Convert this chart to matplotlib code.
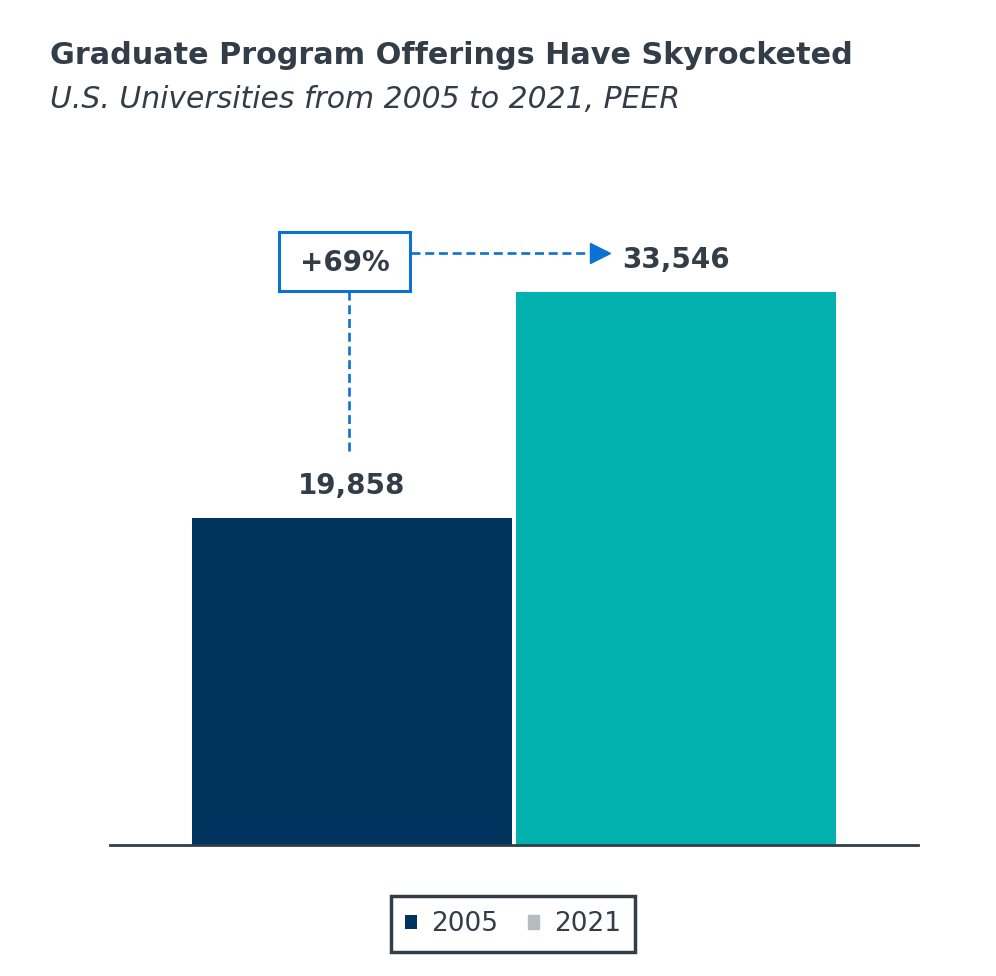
import matplotlib
matplotlib.use("Agg")
import matplotlib.pyplot as plt
from matplotlib.patches import Patch, Rectangle

years = ["2005", "2021"]
values = [19858, 33546]
colors = ["#00335d", "#03b1af"]
pct_label = "+69%"

DARK = "#333d47"
BLUE = "#0a72d2"

plt.rcParams["hatch.color"] = colors[1]
plt.rcParams["hatch.linewidth"] = 1.5

fig = plt.figure(figsize=(9.96, 9.76), dpi=100)
ax = fig.add_axes([110/996, 131/976, 808/996, 645/976])
ymax = values[1] * (645/553)
ax.set_ylim(0, ymax)
ax.set_xlim(-0.747, 1.747)

x = [0, 1]
ax.bar(x, values, width=0.988, color=colors, zorder=2)

for xi, v in zip(x, values):
    ax.text(xi, v + ymax*0.0495, f"{v:,}", ha="center", va="center",
            fontsize=20, fontweight="bold", color=DARK)

for s in ["top", "right", "left"]:
    ax.spines[s].set_visible(False)
ax.spines["bottom"].set_color(DARK)
ax.spines["bottom"].set_linewidth(2)
ax.set_xticks([])
ax.set_yticks([])

# annotation (pixel -> data helpers)
py = lambda p: (845 - p) / 553 * values[1]
px = lambda p: (p - 352) / 324
dash = (0, (3.4, 1.8))
ax.add_patch(Rectangle((px(279), py(291)), px(410) - px(279), py(232) - py(291),
                       fc="white", ec=BLUE, lw=2.2, zorder=3))
ax.text(px(345), py(263), pct_label, ha="center", va="center", fontsize=20,
        fontweight="bold", color=DARK, zorder=4)
ax.plot([px(349), px(349)], [py(451), py(292)], ls=dash, color=BLUE, lw=1.9, zorder=1)
ax.plot([px(411), px(592)], [py(253), py(253)], ls=dash, color=BLUE, lw=1.9, zorder=1)
ax.plot([px(600)], [py(253)], marker=">", markersize=15, color=BLUE, mec=BLUE, zorder=3)

fig.text(50/996, 1 - 55/976, "Graduate Program Offerings Have Skyrocketed",
         fontsize=21.8, fontweight="bold", color=DARK, ha="left", va="center")
fig.text(50/996, 1 - 100/976, "U.S. Universities from 2005 to 2021, PEER",
         fontsize=21.5, style="italic", color=DARK, ha="left", va="center")

handles = [Patch(facecolor=colors[0], label=years[0]),
           Patch(facecolor="#b5bcbc", edgecolor="#b5bcbc", hatch="..", label=years[1])]
leg = fig.legend(handles=handles, loc="center", bbox_to_anchor=(513/996, 1 - 924/976),
                 ncol=2, frameon=True, fancybox=False, fontsize=19, framealpha=1,
                 handlelength=0.45, handleheight=0.45, handletextpad=0.55, columnspacing=1.1,
                 borderpad=0.55, borderaxespad=0, edgecolor=DARK, labelcolor=DARK)
leg.get_frame().set_linewidth(2.5)

fig.savefig("out.png", dpi=100, facecolor="white")
